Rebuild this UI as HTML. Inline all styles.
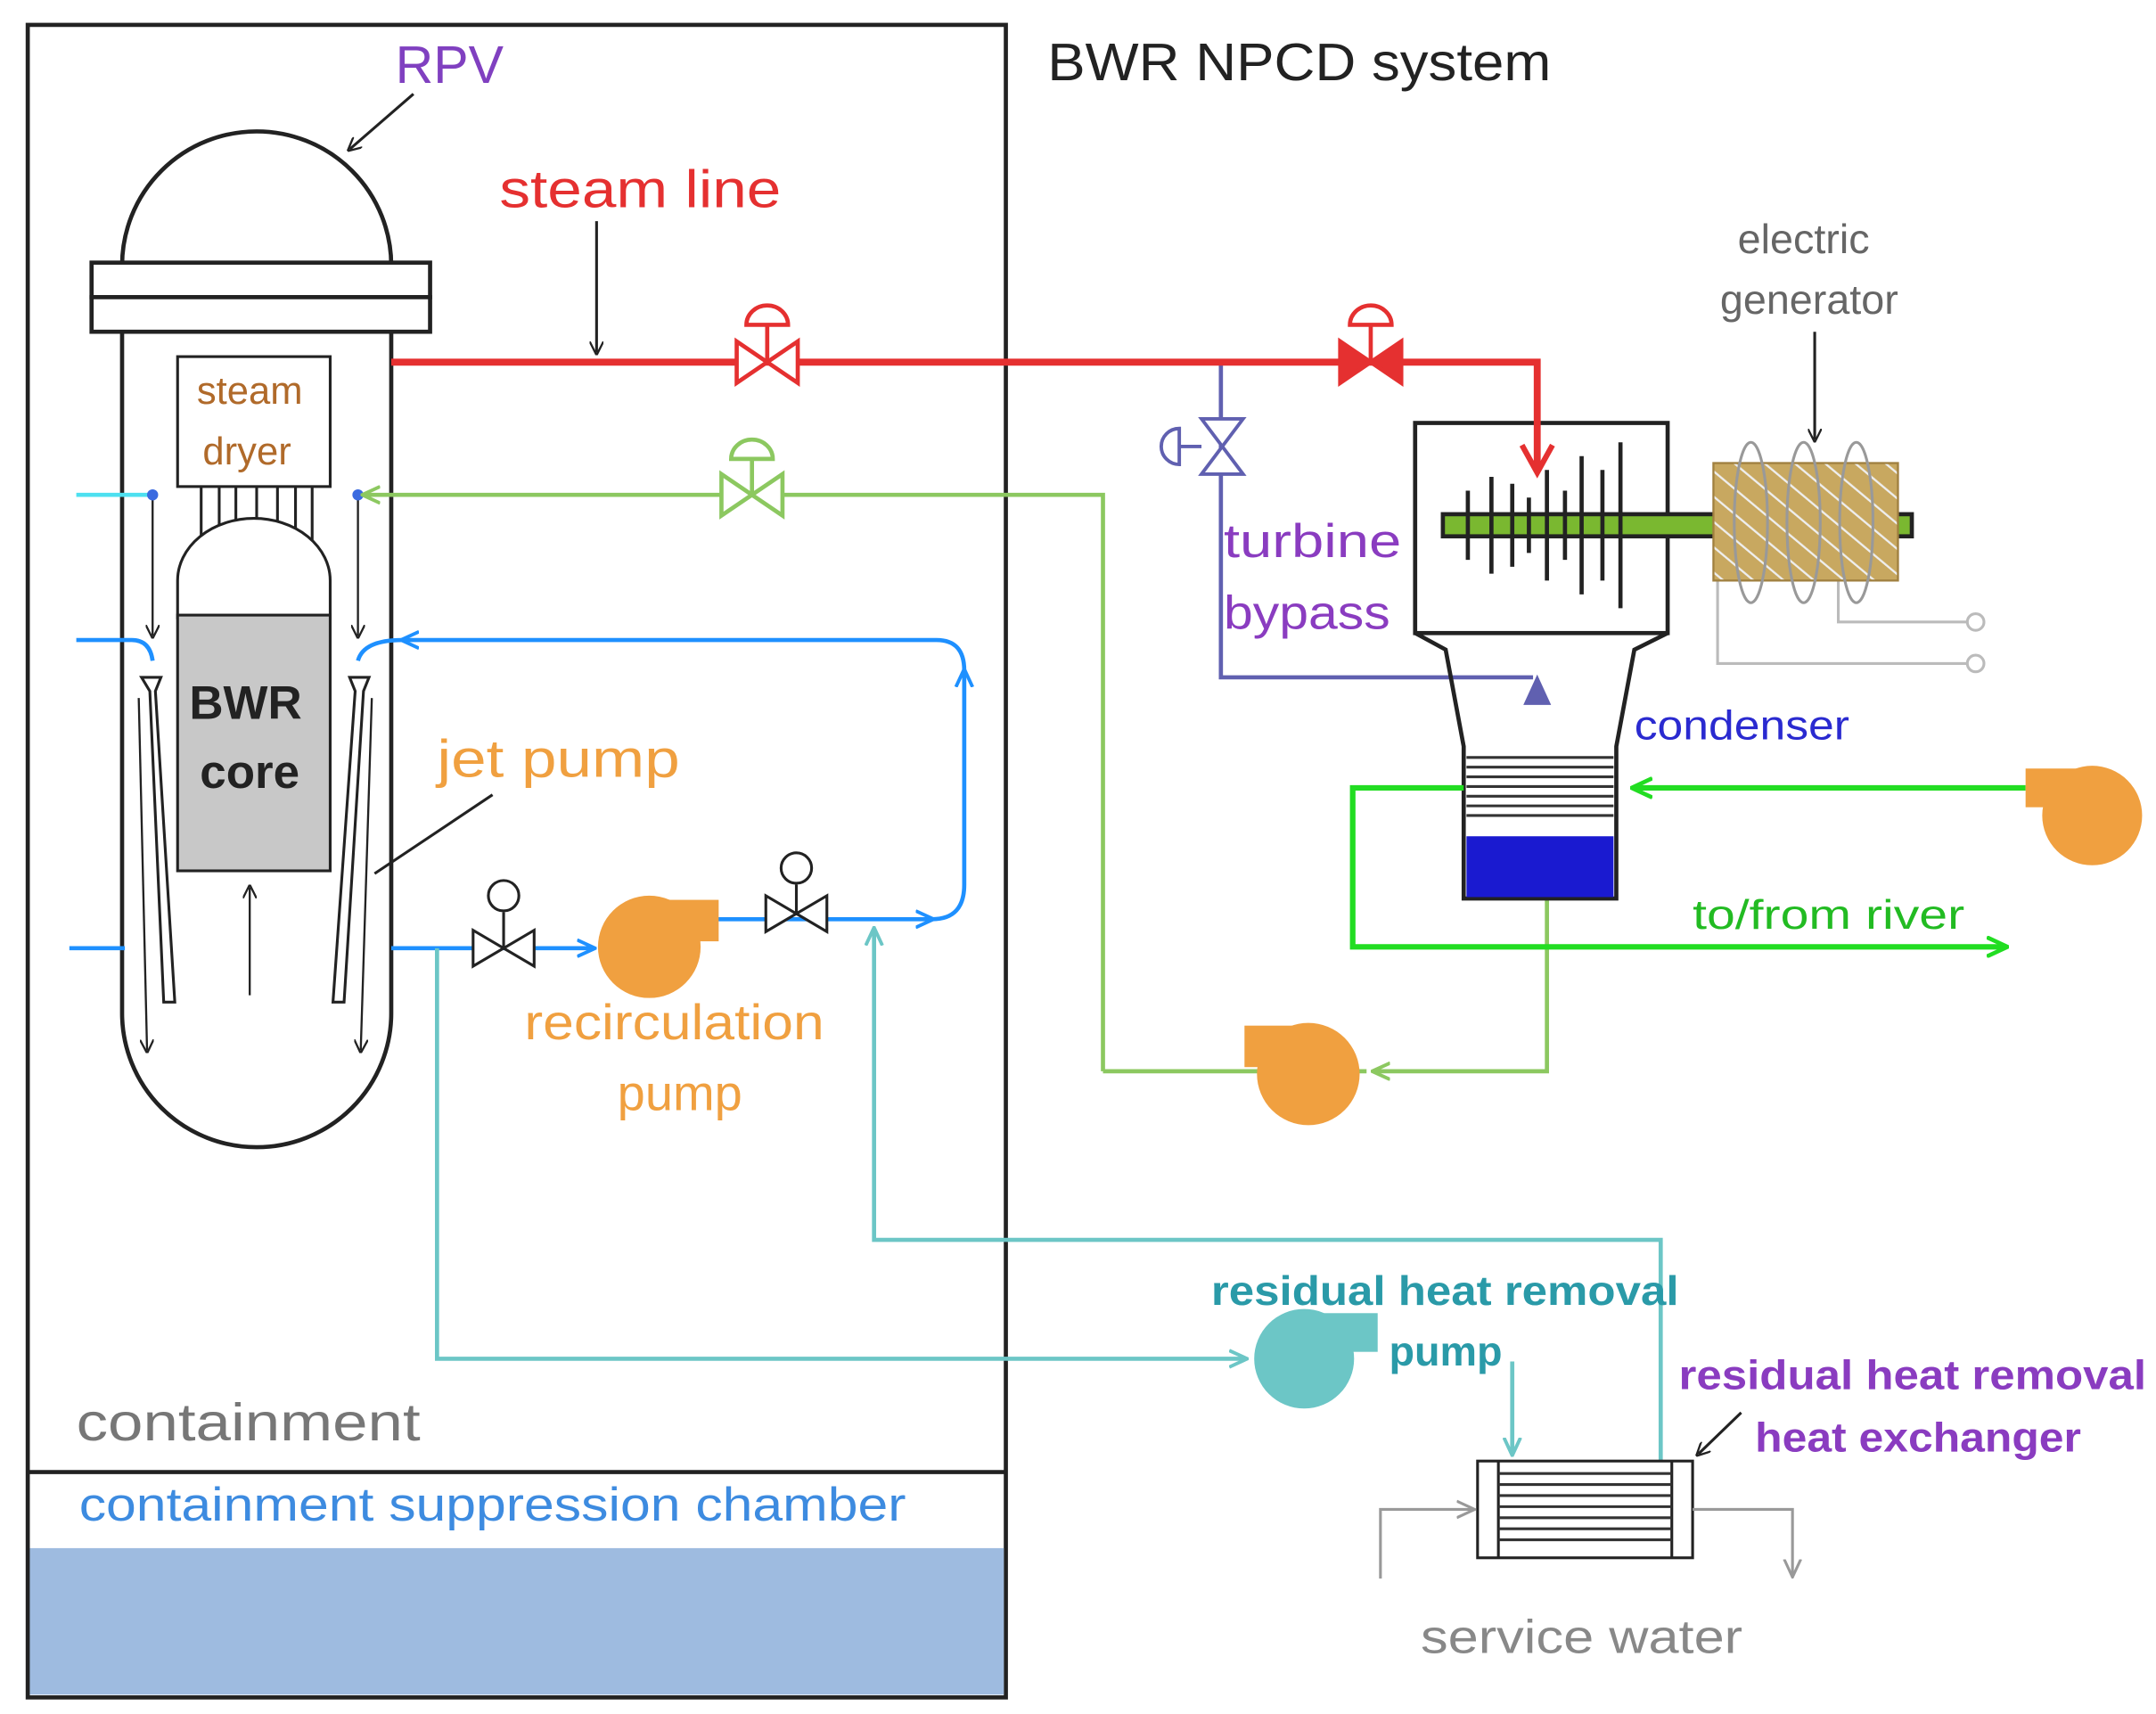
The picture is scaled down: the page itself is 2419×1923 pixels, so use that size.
<!DOCTYPE html>
<html><head><meta charset="utf-8"><style>
html,body{margin:0;padding:0;background:#fff;}
svg{display:block;}
text{font-family:"Liberation Sans","DejaVu Sans",sans-serif;}
</style></head><body>
<svg width="2419" height="1923" viewBox="0 0 1554 1240" preserveAspectRatio="none" xmlns="http://www.w3.org/2000/svg">
<defs>
<marker id="ak" markerWidth="10" markerHeight="10" refX="8" refY="5" orient="auto" markerUnits="userSpaceOnUse"><path d="M0,0 L10,5 L0,10" fill="none" stroke="#222" stroke-width="1.5"/></marker>
<marker id="ab" markerWidth="14" markerHeight="14" refX="12" refY="7" orient="auto" markerUnits="userSpaceOnUse"><path d="M0,1 L13,7 L0,13" fill="none" stroke="#1e90ff" stroke-width="2.5"/></marker>
<marker id="ac" markerWidth="14" markerHeight="14" refX="12" refY="7" orient="auto" markerUnits="userSpaceOnUse"><path d="M0,1 L13,7 L0,13" fill="none" stroke="#6cc6c6" stroke-width="2.5"/></marker>
<marker id="ag" markerWidth="14" markerHeight="14" refX="12" refY="7" orient="auto" markerUnits="userSpaceOnUse"><path d="M0,1 L13,7 L0,13" fill="none" stroke="#8cc860" stroke-width="2.5"/></marker>
<marker id="agg" markerWidth="16" markerHeight="16" refX="14" refY="8" orient="auto" markerUnits="userSpaceOnUse"><path d="M0,1 L15,8 L0,15" fill="none" stroke="#22dd22" stroke-width="3"/></marker>
<marker id="agr" markerWidth="14" markerHeight="14" refX="12" refY="7" orient="auto" markerUnits="userSpaceOnUse"><path d="M0,1 L13,7 L0,13" fill="none" stroke="#999" stroke-width="2"/></marker>
<pattern id="hatch" width="14" height="14" patternUnits="userSpaceOnUse" patternTransform="rotate(-50)"><rect width="14" height="14" fill="#c8a860"/><line x1="0" y1="0" x2="0" y2="14" stroke="#eee" stroke-width="3"/></pattern>
</defs>

<rect x="20" y="18" width="705" height="1210" fill="none" stroke="#222" stroke-width="3"/>
<rect x="21.5" y="1120" width="702" height="106" fill="#9ebbe0"/>
<line x1="20" y1="1065" x2="725" y2="1065" stroke="#222" stroke-width="3"/>
<text x="55" y="1042" font-size="38" fill="#777" textLength="248" lengthAdjust="spacingAndGlyphs">containment</text>
<text x="57" y="1100" font-size="34" fill="#3d8be0" textLength="596" lengthAdjust="spacingAndGlyphs">containment suppression chamber</text>
<text x="755" y="58" font-size="38" fill="#222" textLength="363" lengthAdjust="spacingAndGlyphs">BWR NPCD system</text>

<path d="M88,192 A97,97 0 0 1 282,192" fill="none" stroke="#222" stroke-width="3"/>
<rect x="66" y="190" width="244" height="25" fill="#fff" stroke="#222" stroke-width="3"/>
<rect x="66" y="215" width="244" height="25" fill="#fff" stroke="#222" stroke-width="3"/>
<path d="M88,240 L88,733 A97,97 0 0 0 282,733 L282,240" fill="none" stroke="#222" stroke-width="3"/>
<text x="285" y="60" font-size="38" fill="#8040c0" textLength="78" lengthAdjust="spacingAndGlyphs">RPV</text>
<line x1="298" y1="68" x2="252" y2="108" stroke="#222" stroke-width="2" marker-end="url(#ak)"/>
<rect x="128" y="258" width="110" height="94" fill="#fff" stroke="#222" stroke-width="2"/>
<text x="180" y="292" font-size="28" fill="#b06a2a" text-anchor="middle">steam</text>
<text x="178" y="336" font-size="28" fill="#b06a2a" text-anchor="middle">dryer</text>
<g stroke="#222" stroke-width="2">
<line x1="145" y1="352" x2="145" y2="395"/><line x1="158" y1="352" x2="158" y2="395"/><line x1="170" y1="352" x2="170" y2="390"/><line x1="185" y1="352" x2="185" y2="390"/><line x1="200" y1="352" x2="200" y2="390"/><line x1="213" y1="352" x2="213" y2="395"/><line x1="225" y1="352" x2="225" y2="395"/>
</g>
<path d="M128,448 L128,420 A55,45 0 0 1 238,420 L238,448" fill="#fff" stroke="#222" stroke-width="2"/>
<rect x="128" y="445" width="110" height="185" fill="#c8c8c8" stroke="#222" stroke-width="2"/>
<text x="177" y="520" font-size="34" font-weight="bold" fill="#222" text-anchor="middle">BWR</text>
<text x="180" y="570" font-size="34" font-weight="bold" fill="#222" text-anchor="middle">core</text>
<line x1="180" y1="720" x2="180" y2="642" stroke="#222" stroke-width="1.5" marker-end="url(#ak)"/>
<g fill="#fff" stroke="#222" stroke-width="2">
<path d="M102,490 L116,490 L112,500 L126,725 L118,725 L108,500 Z"/>
<path d="M252,490 L266,490 L262,500 L248,725 L240,725 L256,500 Z"/>
</g>
<g stroke="#222" stroke-width="1.5">
<line x1="110" y1="360" x2="110" y2="460" marker-end="url(#ak)"/>
<line x1="258" y1="360" x2="258" y2="460" marker-end="url(#ak)"/>
<line x1="100" y1="505" x2="106" y2="760" marker-end="url(#ak)"/>
<line x1="268" y1="505" x2="260" y2="760" marker-end="url(#ak)"/>
</g>
<line x1="55" y1="358" x2="108" y2="358" stroke="#4de0f0" stroke-width="3"/>
<circle cx="110" cy="358" r="4" fill="#3a6ae0"/><circle cx="258" cy="358" r="4" fill="#3a6ae0"/>
<path d="M55,463 L95,463 Q108,463 110,478" fill="none" stroke="#1e90ff" stroke-width="3"/>
<path d="M258,478 Q262,463 290,463" fill="none" stroke="#1e90ff" stroke-width="3"/>
<line x1="50" y1="686" x2="90" y2="686" stroke="#1e90ff" stroke-width="3"/>
<text x="315" y="562" font-size="38" fill="#f0a040" textLength="175" lengthAdjust="spacingAndGlyphs">jet pump</text>
<line x1="355" y1="575" x2="270" y2="632" stroke="#222" stroke-width="2"/>

<path d="M795,775 L985,775" fill="none" stroke="#8cc860" stroke-width="3"/>
<path d="M795,775 L795,358 L262,358" fill="none" stroke="#8cc860" stroke-width="3" marker-end="url(#ag)"/>
<path d="M1115,650 L1115,775 L990,775" fill="none" stroke="#8cc860" stroke-width="3" marker-end="url(#ag)"/>
<g stroke="#8cc860" stroke-width="3" fill="#fff">
<path d="M520,343 L564,373 L564,343 L520,373 Z"/>
<line x1="542" y1="358" x2="542" y2="332"/><path d="M527,332 A15,14 0 0 1 557,332 Z"/>
</g>
<g fill="#f0a040"><circle cx="943" cy="777" r="37"/><rect x="897" y="742" width="48" height="30"/></g>

<path d="M282,686 L428,686" fill="none" stroke="#1e90ff" stroke-width="3" marker-end="url(#ab)"/>
<path d="M515,665 L672,665" fill="none" stroke="#1e90ff" stroke-width="3" marker-end="url(#ab)"/>
<path d="M672,665 Q695,665 695,640 L695,485" fill="none" stroke="#1e90ff" stroke-width="3" marker-end="url(#ab)"/>
<path d="M695,485 Q695,463 675,463 L290,463" fill="none" stroke="#1e90ff" stroke-width="3" marker-end="url(#ab)"/>
<g fill="#f0a040"><circle cx="468" cy="685" r="37"/><rect x="470" y="651" width="48" height="30"/></g>
<text x="378" y="752" font-size="36" fill="#f0a040" textLength="216" lengthAdjust="spacingAndGlyphs">recirculation</text>
<text x="490" y="803" font-size="36" fill="#f0a040" text-anchor="middle">pump</text>
<g stroke="#222" stroke-width="2" fill="#fff">
<path d="M341,673 L385,699 L385,673 L341,699 Z"/><line x1="363" y1="686" x2="363" y2="660"/><circle cx="363" cy="648" r="11"/>
<path d="M552,648 L596,674 L596,648 L552,674 Z"/><line x1="574" y1="661" x2="574" y2="640"/><circle cx="574" cy="628" r="11"/>
</g>

<path d="M315,686 L315,983 L898,983" fill="none" stroke="#6cc6c6" stroke-width="3" marker-end="url(#ac)"/>
<path d="M1090,985 L1090,1052" fill="none" stroke="#6cc6c6" stroke-width="3" marker-end="url(#ac)"/>
<path d="M1197,1057 L1197,897 L630,897 L630,672" fill="none" stroke="#6cc6c6" stroke-width="3" marker-end="url(#ac)"/>
<g fill="#6cc6c6"><circle cx="940" cy="983" r="36"/><rect x="943" y="950" width="50" height="28"/></g>
<text x="873" y="944" font-size="30" font-weight="bold" fill="#2a9aa8" textLength="337" lengthAdjust="spacingAndGlyphs">residual heat removal</text>
<text x="1042" y="988" font-size="30" font-weight="bold" fill="#2a9aa8" text-anchor="middle">pump</text>
<rect x="1065" y="1057" width="155" height="70" fill="#fff" stroke="#222" stroke-width="2"/>
<line x1="1080" y1="1057" x2="1080" y2="1127" stroke="#222" stroke-width="2"/>
<line x1="1205" y1="1057" x2="1205" y2="1127" stroke="#222" stroke-width="2"/>
<g stroke="#333" stroke-width="2">
<line x1="1080" y1="1066" x2="1205" y2="1066"/><line x1="1080" y1="1074" x2="1205" y2="1074"/><line x1="1080" y1="1082" x2="1205" y2="1082"/><line x1="1080" y1="1090" x2="1205" y2="1090"/><line x1="1080" y1="1098" x2="1205" y2="1098"/><line x1="1080" y1="1106" x2="1205" y2="1106"/><line x1="1080" y1="1114" x2="1205" y2="1114"/>
</g>
<path d="M995,1142 L995,1092 L1062,1092" fill="none" stroke="#999" stroke-width="2" marker-end="url(#agr)"/>
<path d="M1220,1092 L1292,1092 L1292,1140" fill="none" stroke="#999" stroke-width="2" marker-end="url(#agr)"/>
<text x="1024" y="1196" font-size="34" fill="#888" textLength="232" lengthAdjust="spacingAndGlyphs">service water</text>
<text x="1210" y="1005" font-size="30" font-weight="bold" fill="#8a3cc0" textLength="337" lengthAdjust="spacingAndGlyphs">residual heat removal</text>
<text x="1265" y="1050" font-size="30" font-weight="bold" fill="#8a3cc0" textLength="235" lengthAdjust="spacingAndGlyphs">heat exchanger</text>
<line x1="1255" y1="1022" x2="1224" y2="1052" stroke="#222" stroke-width="2" marker-end="url(#ak)"/>

<path d="M880,262 L880,490 L1105,490" fill="none" stroke="#6060b0" stroke-width="3"/>
<path d="M1098,510 L1108,488 L1118,510 Z" fill="#6060b0"/>
<g stroke="#6060b0" stroke-width="2.5" fill="#fff">
<path d="M866,303 L896,343 L866,343 L896,303 Z"/><line x1="866" y1="323" x2="850" y2="323"/><path d="M850,310 A13,13 0 0 0 850,336 Z"/>
</g>
<text x="882" y="403" font-size="34" fill="#8a3cc0" textLength="128" lengthAdjust="spacingAndGlyphs">turbine</text>
<text x="882" y="455" font-size="34" fill="#8a3cc0" textLength="120" lengthAdjust="spacingAndGlyphs">bypass</text>

<rect x="1020" y="306" width="182" height="152" fill="#fff" stroke="#222" stroke-width="3"/>
<path d="M1020,458 L1042,470 L1055,540 L1055,650 L1165,650 L1165,540 L1178,470 L1202,458" fill="none" stroke="#222" stroke-width="3"/>
<rect x="1057" y="605" width="106" height="44" fill="#1a1ad0"/>
<g stroke="#333" stroke-width="2">
<line x1="1057" y1="548" x2="1163" y2="548"/><line x1="1057" y1="555" x2="1163" y2="555"/><line x1="1057" y1="562" x2="1163" y2="562"/><line x1="1057" y1="569" x2="1163" y2="569"/><line x1="1057" y1="576" x2="1163" y2="576"/><line x1="1057" y1="583" x2="1163" y2="583"/><line x1="1057" y1="590" x2="1163" y2="590"/>
</g>
<rect x="1040" y="372" width="338" height="16" fill="#7ab830" stroke="#222" stroke-width="3"/>
<g stroke="#222" stroke-width="3">
<line x1="1058" y1="355" x2="1058" y2="405"/><line x1="1075" y1="345" x2="1075" y2="415"/><line x1="1090" y1="350" x2="1090" y2="410"/><line x1="1102" y1="360" x2="1102" y2="400"/><line x1="1115" y1="340" x2="1115" y2="420"/><line x1="1128" y1="355" x2="1128" y2="405"/><line x1="1140" y1="330" x2="1140" y2="430"/><line x1="1155" y1="340" x2="1155" y2="420"/><line x1="1168" y1="320" x2="1168" y2="440"/>
</g>
<text x="1178" y="535" font-size="30" fill="#2a2ad0" textLength="155" lengthAdjust="spacingAndGlyphs">condenser</text>

<path d="M282,262 L1108,262 L1108,338" fill="none" stroke="#e53030" stroke-width="5"/>
<path d="M1097,322 L1108,342 L1119,322" fill="none" stroke="#e53030" stroke-width="4"/>
<text x="360" y="150" font-size="38" fill="#e53030" textLength="203" lengthAdjust="spacingAndGlyphs">steam line</text>
<line x1="430" y1="160" x2="430" y2="255" stroke="#222" stroke-width="2" marker-end="url(#ak)"/>
<g stroke="#e53030" stroke-width="3">
<path d="M531,247 L575,277 L575,247 L531,277 Z" fill="#fff"/>
<line x1="553" y1="262" x2="553" y2="235"/><path d="M538,235 A15,14 0 0 1 568,235 Z" fill="#fff"/>
<path d="M966,247 L1010,277 L1010,247 L966,277 Z" fill="#e53030"/>
<line x1="988" y1="262" x2="988" y2="235"/><path d="M973,235 A15,14 0 0 1 1003,235 Z" fill="#fff"/>
</g>

<path d="M1238,400 L1238,480 L1420,480 M1325,400 L1325,450 L1420,450" fill="none" stroke="#bbb" stroke-width="2"/>
<circle cx="1424" cy="450" r="6" fill="#fff" stroke="#bbb" stroke-width="2"/><circle cx="1424" cy="480" r="6" fill="#fff" stroke="#bbb" stroke-width="2"/>
<rect x="1235" y="335" width="133" height="85" fill="url(#hatch)" stroke="#a08040" stroke-width="1.5"/>
<g fill="none" stroke="#999" stroke-width="2"><ellipse cx="1262" cy="378" rx="12" ry="58"/><ellipse cx="1300" cy="378" rx="12" ry="58"/><ellipse cx="1338" cy="378" rx="12" ry="58"/></g>
<text x="1300" y="183" font-size="30" fill="#666" text-anchor="middle">electric</text>
<text x="1304" y="227" font-size="30" fill="#666" text-anchor="middle">generator</text>
<line x1="1308" y1="240" x2="1308" y2="318" stroke="#222" stroke-width="2" marker-end="url(#ak)"/>

<path d="M1460,570 L1177,570" fill="none" stroke="#22dd22" stroke-width="4" marker-end="url(#agg)"/>
<path d="M1055,570 L975,570 L975,685 L1446,685" fill="none" stroke="#22dd22" stroke-width="4" marker-end="url(#agg)"/>
<g fill="#f0a040"><circle cx="1508" cy="590" r="36"/><rect x="1460" y="556" width="50" height="28"/></g>
<text x="1220" y="672" font-size="30" fill="#22bb22" textLength="196" lengthAdjust="spacingAndGlyphs">to/from river</text>
</svg>
</body></html>
